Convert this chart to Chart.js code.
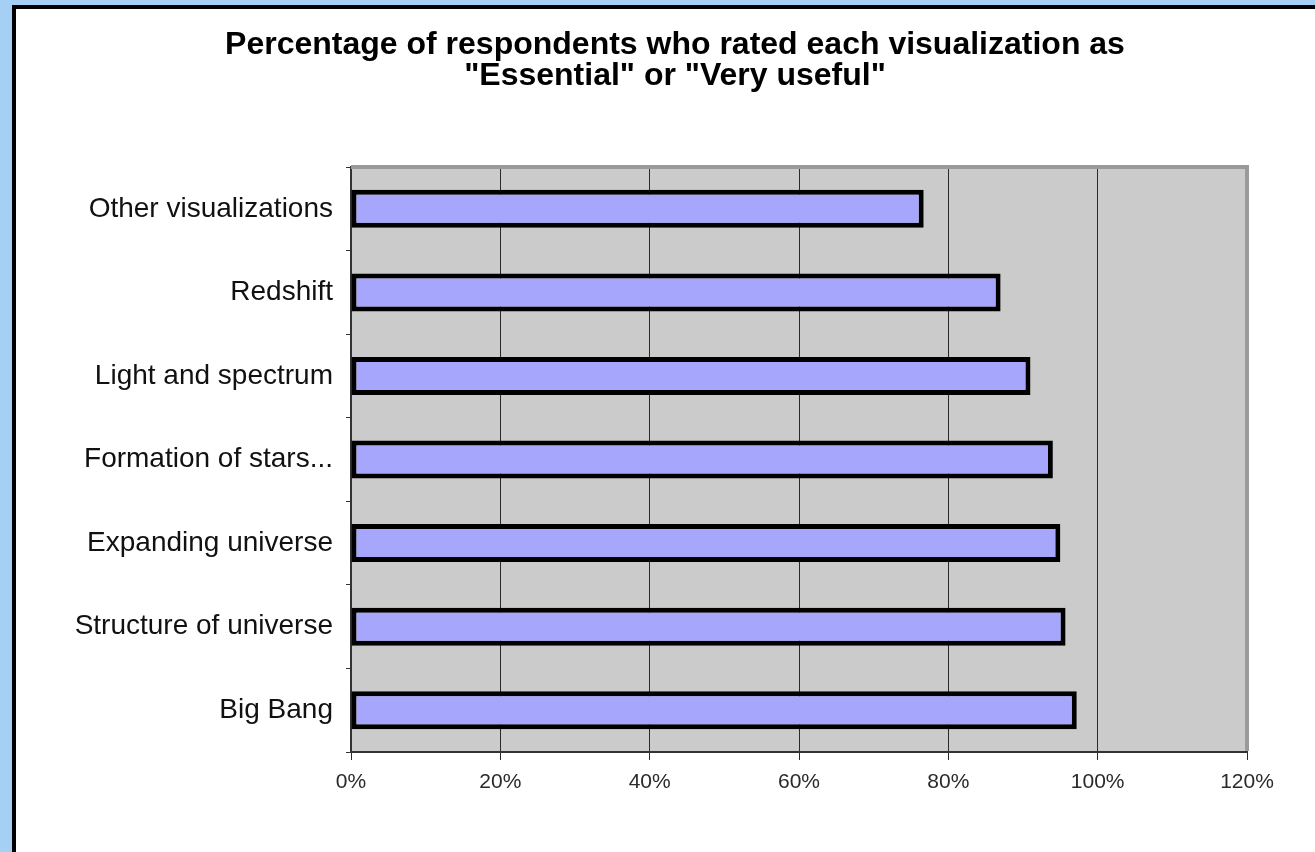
<!DOCTYPE html>
<html>
<head>
<meta charset="utf-8">
<script src="https://cdn.jsdelivr.net/npm/chart.js@4.4.0/dist/chart.umd.min.js"></script>
<style>
  html, body { margin: 0; padding: 0; }
  body { width: 1315px; height: 852px; background: #a6cff6; overflow: hidden; position: relative; }
  #frame {
    position: absolute; left: 12px; top: 5px;
    width: 1299px; height: 843px;
    border-left: 4px solid #000; border-top: 4px solid #000;
    border-bottom: 1px solid #ddd;
    background: #fff;
  }
</style>
</head>
<body>
<div id="frame"><canvas id="myChart"></canvas></div>
<script>
  const categories = [
    'Other visualizations',
    'Redshift',
    'Light and spectrum',
    'Formation of stars...',
    'Expanding universe',
    'Structure of universe',
    'Big Bang',
  ];
  const ratedUseful = [76.7, 87, 91, 94, 95, 95.7, 97.2];
  const xTicks = [0, 20, 40, 60, 80, 100, 120];
  const titleLines = [
    'Percentage of respondents who rated each visualization as',
    '"Essential" or "Very useful"',
  ];

  // grey plot background and the shaded top/right frame
  const plotFrame = {
    id: 'plotFrame',
    beforeDraw(chart) {
      const { ctx, chartArea: a } = chart;
      ctx.save();
      ctx.fillStyle = '#cbcbcb';
      ctx.fillRect(a.left, a.top, a.right - a.left, a.bottom - a.top);
      ctx.restore();
    },
    afterDraw(chart) {
      const { ctx, chartArea: a } = chart;
      ctx.save();
      ctx.strokeStyle = '#9a9a9a';
      ctx.lineWidth = 4;
      ctx.beginPath();
      ctx.moveTo(a.left, a.top);
      ctx.lineTo(a.right, a.top);
      ctx.lineTo(a.right, a.bottom - 1);
      ctx.stroke();
      ctx.restore();
    }
  };

  const data = {
    labels: categories,
    datasets: [{
      label: 'Essential or Very useful',
      data: ratedUseful,
      backgroundColor: '#a6a6fc',
      borderColor: '#000',
      borderWidth: 5,
      borderSkipped: false,
      categoryPercentage: 1,
      barPercentage: 0.455,
    }]
  };

  const config = {
    type: 'bar',
    data,
    options: {
      indexAxis: 'y',
      responsive: true,
      maintainAspectRatio: false,
      animation: false,
      layout: { padding: { left: 20, right: 1, top: 0, bottom: 0 } },
      plugins: {
        legend: { display: false },
        tooltip: { enabled: false },
        title: {
          display: true,
          text: titleLines,
          color: '#000',
          font: { family: '"Liberation Sans", Arial, sans-serif', size: 32, weight: 'bold', lineHeight: 0.97 },
          padding: { top: 21, bottom: 75 },
        }
      },
      scales: {
        x: {
          min: 0,
          max: 120,
          afterBuildTicks: (scale) => { scale.ticks = xTicks.map(v => ({ value: v })); },
          afterFit: (scale) => { scale.height = 100; },
          grid: { color: '#2a2a2a', lineWidth: 1, tickLength: 8, drawOnChartArea: true },
          border: { color: '#333', width: 2 },
          ticks: {
            callback: (v) => v + '%',
            color: '#2a2a2a',
            padding: 10,
            maxRotation: 0,
            font: { family: '"Liberation Sans", Arial, sans-serif', size: 21 },
          }
        },
        y: {
          afterFit: (scale) => { scale.width = 315; },
          grid: { drawOnChartArea: false, color: '#333', tickLength: 5, offset: true },
          border: { color: '#333', width: 2 },
          ticks: {
            color: '#111',
            padding: 13,
            font: { family: '"Liberation Sans", Arial, sans-serif', size: 28 },
          }
        },
        // empty right-hand strip so the title centres like the original
        yRight: {
          type: 'category',
          position: 'right',
          afterFit: (scale) => { scale.width = 67; },
          grid: { display: false },
          border: { display: false },
          ticks: { display: false },
        }
      }
    },
    plugins: [plotFrame]
  };

  var myChart = new Chart(document.getElementById('myChart'), config);
</script>
</body>
</html>
